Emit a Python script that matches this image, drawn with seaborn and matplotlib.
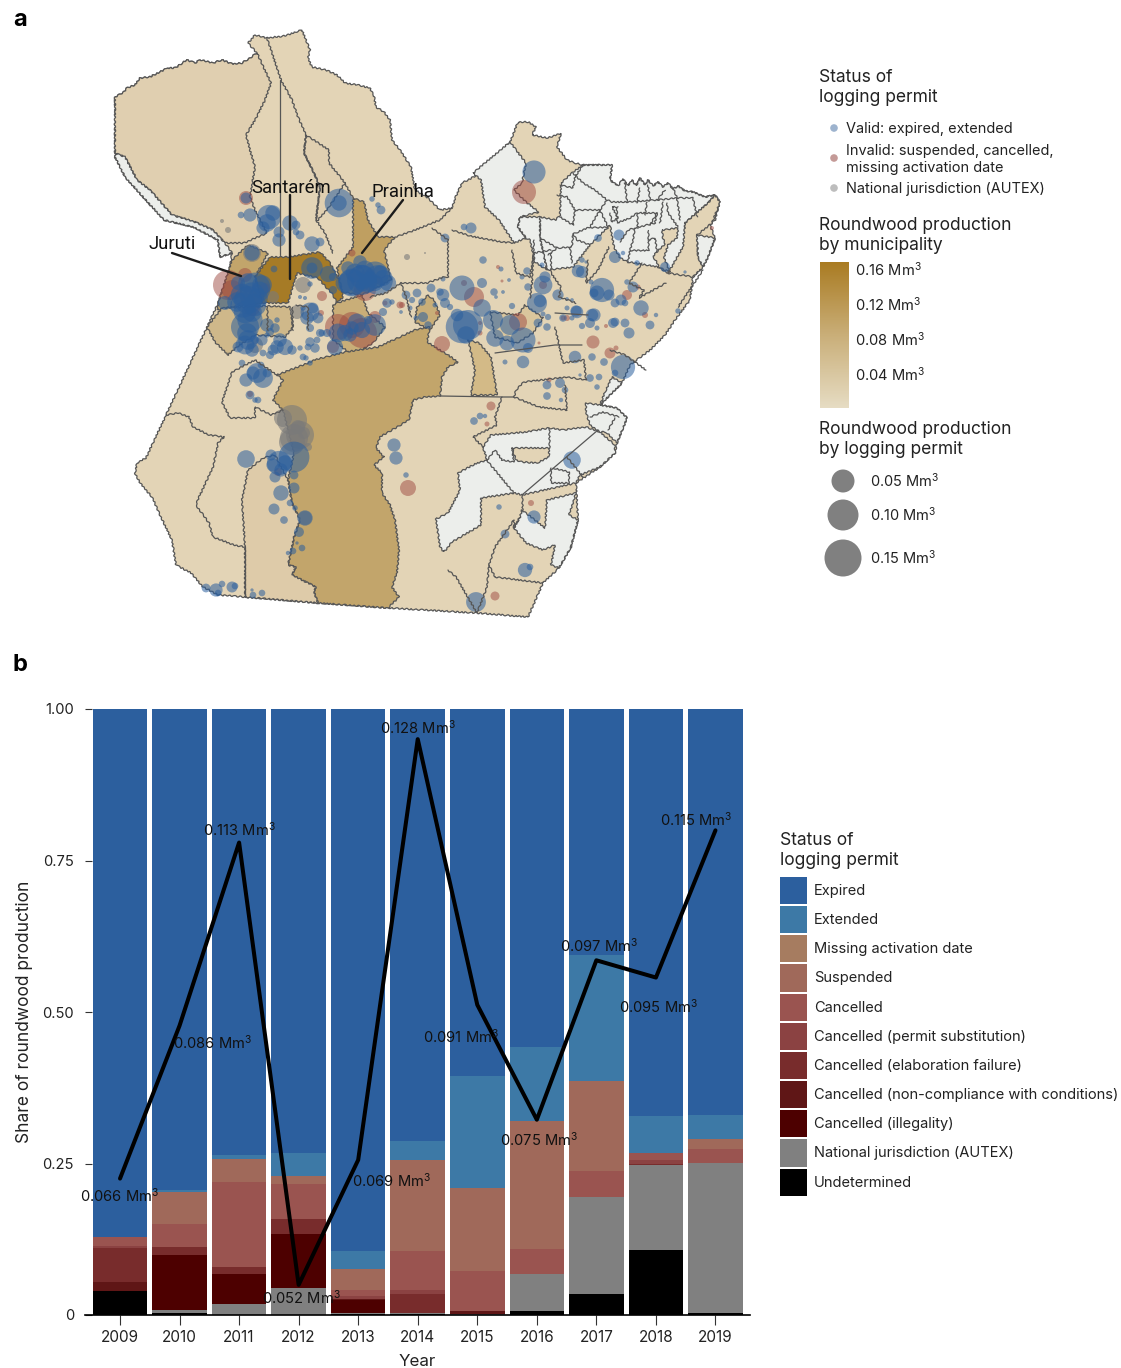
import matplotlib
matplotlib.use("Agg")
import matplotlib.pyplot as plt
import seaborn as sns
import pandas as pd
import numpy as np
from matplotlib.cm import ScalarMappable
from matplotlib.colors import Normalize
from matplotlib.patches import Polygon

sns.set_theme(style="white")
plt.rcParams["font.family"] = ["Inter", "DejaVu Sans"]
plt.rcParams["mathtext.default"] = "regular"

W, H = 1121, 1368

# ---------- panel b data ----------
years = ["2009", "2010", "2011", "2012", "2013", "2014", "2015", "2016", "2017", "2018", "2019"]
statuses = ["Expired", "Extended", "Missing activation date", "Suspended", "Cancelled",
            "Cancelled (permit substitution)", "Cancelled (elaboration failure)",
            "Cancelled (non-compliance with conditions)", "Cancelled (illegality)",
            "National jurisdiction (AUTEX)", "Undetermined"]
status_colors = ["#2C5F9E", "#3D79A6", "#A67C60", "#A0695A", "#9A5450", "#8B4242",
                 "#782C2C", "#5F1616", "#4D0000", "#808080", "#000000"]
undetermined = [.040, .003, .000, .000, .001, .001, .000, .007, .035, .107, .004]
national     = [.000, .006, .018, .044, .003, .002, .001, .060, .160, .140, .247]
illegality   = [.000, .090, .050, .090, .020, .000, .000, .000, .000, .000, .000]
noncompl     = [.015, .000, .000, .000, .002, .000, .006, .000, .000, .000, .000]
elaboration  = [.056, .014, .012, .025, .000, .032, .000, .000, .000, .002, .000]
substitution = [.003, .000, .000, .000, .006, .006, .000, .000, .000, .006, .000]
cancelled    = [.014, .037, .139, .057, .009, .065, .066, .042, .043, .013, .023]
suspended    = [.000, .053, .039, .013, .035, .150, .137, .211, .148, .000, .016]
missing      = [.000, .000, .000, .000, .000, .000, .000, .000, .000, .000, .000]
extended     = [.000, .003, .006, .039, .030, .031, .184, .122, .208, .061, .040]
layers = [undetermined, national, illegality, noncompl, elaboration, substitution,
          cancelled, suspended, missing, extended]
layer_names = statuses[::-1][:-1]

production = [.0668, .0881, .1136, .0520, .0694, .1280, .0910, .0750, .0972, .0948, .1153]
prod_labels = ["0.066", "0.086", "0.113", "0.052", "0.069", "0.128", "0.091", "0.075", "0.097", "0.095", "0.115"]
label_dx = [0, 33, 0, 3, 33, 0, -16, 2, 3, 3, -19]
label_dy = [17, 17, -13, 13, 21, -11, 32, 20, -15, 29, -11]

# ---------- panel a data: municipality shapes in map units ----------
state = [(115,97),(124,92),(127,88),(135,85),(140,78),(150,77),(160,72),(168,68),(175,68),(187,60),(195,63),(200,60),(213,63),
 (222,60),(232,64),(242,63),(250,58),(257,53),(248,43),(255,35),(267,38),(284,36),(302,30),(306,40),(310,50),(308,58),(312,67),
 (326,70),(337,75),(345,83),(358,85),(370,88),(374,96),(376,107),(384,112),(390,120),(392,140),(400,150),(411,167),(415,190),
 (428,198),(440,210),(452,208),(456,196),(462,183),(481,173),(495,160),(510,142),(518,122),(528,122),(536,127),(532,135),(548,138),(561,133),
 (557,147),(567,160),(575,163),(583,165),(612,165),(610,180),(618,186),(623,179),(628,186),(632,180),(636,186),(640,178),(645,185),(648,180),
 (653,186),(658,182),(663,187),(668,183),(673,189),(678,186),(685,191),(693,192),(705,197),(715,195),(720,202),(715,220),(710,225),(715,238),
 (708,257),(703,267),(693,277),(690,300),(675,320),(665,335),(650,350),(630,365),(622,383),(600,405),(617,408),(627,418),(617,443),(615,453),
 (600,467),(576,483),(578,520),(571,547),(559,568),(543,583),(528,617),(477,613),(390,608),(318,603),(245,597),(218,595),(203,587),(191,573),
 (176,565),(172,540),(160,515),(152,497),(140,483),(135,473),(137,463),(146,458),(166,415),(209,323),(218,303),(230,268),(232,253),(220,257),(218,240),
 (193,227),(164,220),(143,197),(125,177),(115,157)]
grey_west = [(115,153),(125,157),(137,180),(150,190),(172,215),(195,222),(213,230),(225,243),(232,253),(220,257),(218,240),
 (193,227),(164,220),(143,197),(125,177),(115,157)]
far_nw = [(115,97),(124,92),(127,88),(135,85),(140,78),(150,77),(160,72),(168,68),(175,68),(187,60),(195,63),(200,60),(213,63),(222,60),(232,64),(242,63),(250,58),(257,53),
 (264,68),(271,83),(265,100),(255,120),(246,135),(250,150),(255,167),(250,197),
 (255,210),(267,233),(244,243),(225,243),(213,230),(195,222),(172,215),(150,190),(137,180),(125,157),(115,153)]
curua = [(306,135),(329,150),(329,163),(345,183),(329,207),(318,220),(316,220),(320,187),(314,173),(304,153)]
prainha = [(353,198),(364,202),(368,220),(378,237),(395,237),(384,250),(391,280),(362,295),(342,292),(337,268),(353,247),(353,227)]
santarem = [(255,277),(270,257),(288,257),(320,252),(330,263),(340,282),(343,297),(337,303),(333,295),(318,278),(297,273),(288,303),(262,303)]
juruti = [(232,260),(248,245),(268,253),(255,277),(262,303),(225,308),(217,310),(220,297)]
aveiro = [(207,327),(222,308),(265,306),(290,307),(293,327),(285,337),(255,335),(237,347),(228,355),(215,342)]
patch_a = [(333,305),(337,303),(362,295),(368,313),(385,327),(373,343),(352,355),(333,340)]
patch_b = [(428,295),(417,307),(415,322),(430,330),(440,315),(434,300)]
patch_c = [(468,340),(479,343),(485,350),(491,357),(497,395),(471,395),(475,370)]
patch_d = [(490,312),(518,315),(525,305),(543,318),(533,333),(517,343),(495,337)]
altamira = [(430,327),(427,342),(448,355),(458,362),(448,367),(442,377),(440,396),(425,397),(413,400),(409,420),(380,437),
 (376,448),(384,457),(374,465),(382,473),(382,493),(390,505),(395,520),(397,535),(399,550),(397,573),(392,587),(399,597),(388,608),(318,603),
 (314,592),(316,587),(292,575),(296,567),(288,565),(294,537),(300,520),(292,503),(288,480),(294,453),(283,410),(273,400),
 (283,380),(277,375),(308,363),(314,360),(345,352),(378,347),(415,330)]
novo_prog = [(245,597),(245,547),(242,500),(248,470),(263,458),(275,455),(288,480),(292,503),(300,520),(294,537),(288,565),
 (296,567),(292,575),(316,587),(314,592),(318,603)]
marajo = [(473,173),(510,142),(526,163),(522,183),(514,190),(526,202),(539,212),(520,217),(518,227),(526,238),(514,243),
 (499,220),(485,207),(481,180)]
ne_grey = [(561,183),(572,173),(583,165),(612,165),(610,180),(618,186),(623,179),(628,186),(632,180),(636,186),(640,178),(645,185),(648,180),
 (653,186),(658,182),(663,187),(668,183),(673,189),(678,186),(685,191),(693,192),(705,197),(715,195),(708,203),(685,223),(685,250),
 (668,273),(658,267),(628,262),(620,258),(614,247),(610,225),(590,245),(573,267),(547,270),(540,238),(540,217),(556,220),(560,215)]
mid_grey = [(520,217),(540,217),(540,238),(547,270),(535,262),(530,240),(526,238),(518,227)]
e_tan = [(685,223),(708,203),(715,195),(720,202),(712,223),(697,235),(698,257),(703,267),(693,277),(668,273),(683,247)]
e_grey = [(697,235),(715,238),(708,257),(703,267),(698,257)]
ne_inset = [(662,230),(678,228),(677,238),(668,245),(664,258),(670,272),(660,268),(653,256),(665,244),(663,238)]
se_grey_a = [(483,447),(491,435),(526,432),(549,428),(563,430),(586,427),(600,432),(615,445),(615,453),(600,467),(580,475),(576,483),
 (522,495),(514,493),(481,498),(481,525),(452,542),(444,552),(440,547),(436,519),(448,513),(460,490),(458,473),(475,464),(487,460)]
se_grey_b = [(522,510),(545,528),(547,500),(576,493),(569,515),(578,520),(571,547),(559,568),(551,565),(555,545),(543,550),
 (526,543),(514,528),(520,517)]
se_grey_c = [(586,403),(600,405),(617,408),(627,418),(617,443),(606,432),(600,432),(590,425),(586,412)]
se_inset = [(512,448),(549,448),(549,457),(537,463),(522,462),(516,460)]
sliver = [(600,405),(622,383),(612,377),(605,392)]
areas = [(far_nw, "#E0CFB0"), (grey_west, "#ECEEEB"), (curua, "#E0CFB0"), (prainha, "#BF9F61"), (santarem, "#A67B26"),
         (juruti, "#C2A56B"), (aveiro, "#CFB88A"), (patch_a, "#C9AE78"), (patch_b, "#C9AE78"), (patch_c, "#D3BA87"), (patch_d, "#DAC69D"),
         (altamira, "#C2A56B"), (novo_prog, "#DECBA9"), (marajo, "#ECEEEB"), (ne_grey, "#ECEEEB"), (mid_grey, "#ECEEEB"),
         (e_tan, "#E3D4B6"), (e_grey, "#ECEEEB"), (ne_inset, "#E3D4B6"), (se_grey_a, "#ECEEEB"), (se_grey_b, "#ECEEEB"), (se_grey_c, "#ECEEEB"),
         (se_inset, "#E3D4B6"), (sliver, "#ECEEEB")]

borders = [
 [(267,38),(281,80),(292,100),(298,117),(306,135),(304,153),(314,173),(320,187),(316,220),(325,233),(333,253)],
 [(353,198),(345,183)], [(395,237),(410,232),(440,220),(452,208)],
 [(432,228),(448,240),(448,277),(444,277),(427,283),(401,283),(386,293),(370,297)],
 [(452,230),(470,236),(502,242),(514,243)], [(512,250),(516,273),(530,277),(534,253),(551,250)],
 [(534,240),(532,283),(530,298)], [(551,253),(551,273),(561,287),(559,297),(576,303)],
 [(588,260),(586,283),(598,270),(609,247)], [(642,263),(629,283),(644,290),(639,298),(666,283)],
 [(703,270),(678,307)], [(555,327),(563,363),(584,360),(586,380),(567,377),(524,382),(516,390),(514,397),(539,407),(567,410),(565,385)],
 [(625,355),(646,370)], [(610,350),(625,355)],
 [(502,397),(495,417),(497,425),(473,437),(481,445),(483,447)],
 [(401,283),(407,300),(411,317)], [(296,305),(308,307),(308,330)], [(292,307),(292,330)], [(267,307),(267,330)],
 [(232,372),(222,402),(230,418),(255,418),(255,407),(271,415),(283,410)], [(232,372),(255,360),(277,375)],
 [(166,415),(178,413),(189,417),(193,427),(209,435),(224,437),(218,443),(213,467),(199,497),(196,505),(209,523),(213,537),(234,545),(245,547)],
 [(448,570),(456,577),(477,613),(487,587),(489,565),(495,547),(514,520),(514,528)], [(495,577),(543,583)], [(489,565),(495,577)],
 # north-east municipalities
 [(560,185),(573,188),(575,177),(583,165)], [(573,173),(583,183),(595,190),(607,200)],
 [(557,195),(567,197),(575,210),(573,225),(560,217)],
 [(575,210),(587,210),(600,210),(590,227),(573,234),(572,247),(557,248),(548,255)],
 [(600,210),(607,200),(612,202),(627,202),(657,200),(677,198),(693,198)], [(600,210),(608,227)], [(590,227),(608,227)],
 [(573,234),(577,240),(590,245)], [(570,247),(572,263)],
 [(627,202),(625,183)], [(637,203),(640,188)], [(650,200),(648,185)], [(657,200),(665,190)], [(677,198),(673,188)], [(693,198),(697,217)],
 [(617,208),(617,223),(630,218),(637,213),(657,213),(655,223),(635,228),(628,230),(620,242)],
 [(637,213),(637,228)], [(647,202),(645,215)], [(657,213),(650,225)], [(663,202),(660,223)], [(667,203),(668,213),(678,227)], [(677,198),(680,220)],
 [(635,228),(633,240),(630,250),(628,262)], [(648,230),(648,250),(640,250),(630,250)], [(648,240),(655,238),(657,252)],
 [(610,213),(612,222),(618,218),(612,207),(618,207)],
 [(540,238),(557,248)],
 # south-east municipalities
 [(487,460),(495,450),(502,460),(514,462),(512,448)], [(549,448),(549,428)], [(487,460),(489,463),(514,493)],
 [(567,457),(583,477)], [(551,468),(551,483),(569,483),(569,472),(553,468)],
 [(590,417),(603,412)], [(603,412),(619,417)], [(608,430),(615,418)],
 [(522,495),(522,510)], [(514,528),(520,517)],
]
straight_borders = [[(280,80),(280,255)], [(495,353),(555,345),(582,345)], [(440,396),(502,397),(514,397)], [(555,313),(588,315)],
                    [(522,495),(598,430)], [(245,547),(245,597)]]

# permits as (x, y, bubble diameter) in map units
valid_juruti = [(255,288,22),(248,283,14),(262,285,14),(242,295,16),(248,300,20),(237,302,14),(255,305,16),(245,312,16),(250,320,18),(245,327,20),
 (225,303,10),(247,333,14),(260,290,12),(238,283,10),(252,295,18),(258,298,14),(243,305,18),(252,312,14),(248,340,14),(262,340,8)]
valid_north = [(534,172,21),(339,203,26),(339,203,14),(372,199,5),(381,210,8),(378,205,5),(471,228,10),(464,227,6),(445,238,8),(269,217,22),(267,223,16),
 (263,228,12),(273,213,14),(250,215,12),(241,215,6),(279,232,10),(279,240,12),(290,223,14),(296,225,8),(300,235,8),(312,244,14),(320,242,8),(296,232,6),(252,253,14),(246,198,10)]
valid_center = [(274,269,5),(312,268,16),(312,268,8),(328,274,12),(333,277,6),(333,290,6),(310,284,4),(300,297,3),(305,298,3),
 (310,312,14),(307,318,10),(313,308,8),(318,318,8),(303,308,4),(267,325,10),(277,320,4),(275,328,7),(270,332,6),(267,335,4),(300,348,4),(310,328,6),(320,333,6),(327,333,6),
 (310,342,7),(315,348,7),(308,347,5),(317,340,5),(303,357,5),(245,345,14),(252,350,10),(238,347,8),(255,340,6),(273,350,8),(280,340,10),(285,347,12),(277,347,10),(270,355,6),(263,353,5),(292,350,7),(306,358,4),(310,363,4),
 (338,333,14),(345,333,12),(357,323,14),(375,325,16),(350,335,10),(368,320,6),(335,347,12),(322,333,5),(362,330,12),(352,328,10)]
valid_prainha = [(362,277,18),(355,273,14),(375,275,20),(368,283,14),(352,283,20),(360,262,10),(383,278,12),(388,283,12),(348,268,10),(365,270,14),(380,272,10),(375,283,12),(345,283,14),
 (387,303,7),(383,312,6),(392,302,4),(362,285,10),(370,278,10),(362,280,22),(378,280,22),(352,282,20)]
valid_altamira = [(483,260,6),(501,269,4),(509,280,3),(527,271,6),(522,277,4),(542,265,4),(545,277,9),(543,285,15),(528,287,6),(443,279,4),(462,288,20),(482,283,8),(482,308,14),(494,292,6),(503,292,3),(496,297,3),(512,306,5),
 (537,303,16),(540,301,10),(558,295,9),(567,299,3),(577,312,10),(572,300,3),(578,271,10),(591,282,4),(597,293,12),(468,325,24),(462,327,26),(457,315,10),(493,320,16),(495,338,14),(507,343,12),(510,325,16),
 (523,340,20),(528,348,8),(538,323,7),(543,314,4),(548,317,5),(547,327,6),(563,318,6),(572,318,4),(576,311,9),(592,315,10),(582,326,5),(590,323,8),(597,328,4),(567,308,4),(505,362,4),(523,362,10),(575,357,10),(592,357,6),
 (443,295,10),(440,292,6),(445,303,8),(450,307,5),(435,305,4),(422,302,6),(417,293,7),(406,295,7),(412,300,5),(410,308,4),(431,288,7),(423,317,8),(416,318,4),(428,325,6),(401,312,3),(466,335,14)]
valid_east = [(582,272,11),(598,238,7),(619,235,10),(615,257,11),(623,253,4),(637,263,5),(665,267,9),(685,272,3),(582,260,5),(586,262,3),(602,290,22),(594,293,8),(609,295,10),(621,300,10),(615,303,8),(633,287,10),
 (641,308,14),(625,303,6),(627,282,5),(594,315,12),(615,322,8),(625,323,8),(678,311,5),(656,315,4),(623,367,22),(604,362,7),(615,373,6),(613,323,9),(629,333,10),(650,325,8),
 (547,385,8),(560,383,9),(547,396,7),(565,390,6),(561,400,4),(580,375,3),(590,378,7),(599,377,6),(597,387,5)]
valid_south = [(246,459,16),(294,457,28),(279,463,22),(271,455,10),(273,465,12),(285,463,14),(275,477,10),(281,470,12),(294,475,8),(294,488,10),(281,493,14),(290,503,6),(274,509,10),(295,508,5),(284,520,7),(305,518,14),
 (299,532,9),(302,548,6),(293,551,6),(288,553,4),(297,543,3),(394,445,12),(396,458,12),(406,475,5),(480,416,6),(474,421,7),(485,416,4),(572,460,16),(534,517,12),(505,534,8),(499,507,5),(525,570,13),(530,567,6),(476,602,18),
 (206,588,8),(216,590,12),(222,584,6),(232,587,10),(235,586,6),(218,593,6),(253,595,6),(262,593,6),(252,590,3),(257,373,18),(263,378,18),(246,380,12),(253,373,12),(242,363,6),(261,365,6),(267,373,8),(255,400,5),(258,400,6),(250,395,8)]
invalid_all = [(524,192,24),(246,198,14),(228,285,30),(245,275,14),(232,290,20),(252,308,16),(265,288,10),(322,296,10),(338,327,26),(362,333,30),(375,317,12),(352,253,7),(365,290,22),(377,280,8),(321,313,6),(385,303,5),
 (402,305,6),(333,347,12),(352,325,26),(498,267,4),(502,281,3),(543,285,8),(464,283,6),(474,297,20),(518,322,18),(539,343,3),(593,342,13),(437,313,4),(400,305,7),(480,323,4),(480,333,5),(442,344,16),(563,318,5),
 (627,295,10),(638,287,5),(610,353,11),(616,348,5),(606,326,4),(549,380,5),(491,406,9),(487,424,5),(408,488,16),(531,503,6),(495,596,9),(278,472,8),(250,394,6),(567,318,6),(645,315,6),(712,228,4)]
autex_all = [(292,420,30),(300,435,28),(294,438,28),(292,442,26),(304,433,12),(308,447,8),(298,427,14),(283,418,18),(303,285,16),(297,312,14),(273,297,12),(252,253,18),(407,257,6),(425,253,2),(228,230,6),(222,221,4),(305,518,14),(255,345,16)]

# legend values
bubble_vals = ["0.05", "0.10", "0.15"]
bubble_d = [23, 31, 37]
cbar_ticks = [0.04, 0.08, 0.12, 0.16]
cbar_labels = ["0.04", "0.08", "0.12", "0.16"]

# ---------- figure ----------
fig = plt.figure(figsize=(W / 100, H / 100), dpi=100)
bg = fig.add_axes([0, 0, 1, 1])
bg.set_xlim(0, W)
bg.set_ylim(H, 0)

edge = "#565656"
rough = (0.7, 5, 2)
for shape, col in [(state, "#E3D4B6")] + areas:
    p = Polygon(shape, closed=True, fc=col, ec=edge, lw=0.9)
    p.set_sketch_params(*rough)
    bg.add_patch(p)
for line in borders:
    xs, ys = zip(*line)
    ln, = bg.plot(xs, ys, color=edge, lw=0.9, solid_joinstyle="round")
    ln.set_sketch_params(*rough)
for line in straight_borders:
    xs, ys = zip(*line)
    bg.plot(xs, ys, color=edge, lw=0.9)

# dense logging districts are drawn with slightly larger bubbles
dense = [(valid_north, 1.1), (valid_juruti, 1.4), (valid_center, 1.35), (valid_prainha, 1.35), (valid_altamira, 1.25),
         (valid_east, 1.1), (valid_south, 1.1)]
rows = [(x, y, d, "autex") for x, y, d in autex_all] + [(x, y, d, "invalid") for x, y, d in invalid_all]
for group, k in dense:
    rows += [(x, y, d * k, "valid") for x, y, d in group]
permits = pd.DataFrame(rows, columns=["x", "y", "d", "status"])
permits["area"] = (permits["d"] * 0.72) ** 2
a_min, a_max = permits["area"].min(), permits["area"].max()
for st, col, al in [("autex", "#7A7A7A", .6), ("invalid", "#9E4A42", .5), ("valid", "#2B5F9E", .55)]:
    sub = permits[permits["status"] == st]
    sns.scatterplot(data=sub, x="x", y="y", size="area", sizes=(a_min, a_max), size_norm=(a_min, a_max),
                    color=col, alpha=al, linewidth=0, legend=False, ax=bg)

# place names
for name, tx, ty, lx, ly in [("Santarém", 291, 188, [290, 290], [195, 279]),
                             ("Prainha", 403, 192, [403, 362], [200, 253]),
                             ("Juruti", 172, 244, [172, 241], [253, 276])]:
    bg.plot(lx, ly, color="#1c1c1c", lw=1.7)
    bg.text(tx, ty, name, ha="center", va="center", fontsize=13.3, family=["Roboto", "DejaVu Sans"], color="#111111")

# legend of panel a
def T(x, y, s, size=10, **kw):
    bg.text(x, y, s, fontsize=size, va="center", ha=kw.pop("ha", "left"), color=kw.pop("color", "#222222"), **kw)

TITLE = 12.55
T(819, 77, "Status of", TITLE); T(819, 97, "logging permit", TITLE)
T(846, 129, "Valid: expired, extended", 10.45)
T(846, 151, "Invalid: suspended, cancelled,", 10.45); T(846, 168, "missing activation date", 10.45)
T(846, 189, "National jurisdiction (AUTEX)", 10.45)
sns.scatterplot(x=[834, 834, 834], y=[128, 158, 188], hue=["Valid", "Invalid", "AUTEX"],
                palette={"Valid": "#9DB3CE", "Invalid": "#C49A97", "AUTEX": "#BDBDBD"},
                s=30, linewidth=0, legend=False, ax=bg)
T(819, 225, "Roundwood production", TITLE); T(819, 246, "by municipality", TITLE)
T(819, 430, "Roundwood production", TITLE); T(819, 450, "by logging permit", TITLE)
bub_y = [481, 515, 558]
sns.scatterplot(x=[843, 843, 843], y=bub_y, size=bubble_vals, sizes={v: (d * .72) ** 2 for v, d in zip(bubble_vals, bubble_d)},
                color="#808080", linewidth=0, legend=False, ax=bg)
for v, y in zip(bubble_vals, bub_y):
    T(870, y, f"{v} Mm$^{{3}}$", 10.5)

# panel letters
bg.text(13, 20, "a", fontsize=17, fontweight="bold", va="center", color="black")
bg.text(13, 665, "b", fontsize=17, fontweight="bold", va="center", color="black")
T(417, 1361, "Year", 12.2, ha="center")
bg.text(25, 1012, "Share of roundwood production", fontsize=12.5, rotation=90, va="center", ha="center", color="#222222")
bg.set_xlim(0, W)
bg.set_ylim(H, 0)
bg.set_axis_off()

# colour bar
cax = fig.add_axes([820 / W, 1 - 408 / H, 29 / W, 146 / H])
cmap = sns.blend_palette(["#E6DCC3", "#C9AE78", "#A97B22"], as_cmap=True)
cb = fig.colorbar(ScalarMappable(Normalize(0, 0.167), cmap), cax=cax)
cb.outline.set_visible(False)
cb.set_ticks(cbar_ticks)
cb.set_ticklabels([f"{v} Mm$^{{3}}$" for v in cbar_labels], fontsize=10.6, color="#222222")
cax.tick_params(axis="y", direction="in", left=True, right=True, length=4, width=0.8, color="white", pad=4.5)

# ---------- panel b ----------
ax = fig.add_axes([85 / W, 1 - 1315 / H, 665 / W, 606 / H])
bottom = np.zeros(len(years))
color_of = dict(zip(statuses, status_colors))
for name, vals in zip(layer_names, layers):
    sns.barplot(x=years, y=vals, bottom=bottom, color=color_of[name], width=0.915, saturation=1,
                linewidth=0, label=name, ax=ax)
    bottom = bottom + np.array(vals)
expired = 1 - bottom
sns.barplot(x=years, y=expired, bottom=bottom, color=color_of["Expired"], width=0.915, saturation=1,
            linewidth=0, label="Expired", ax=ax)
ax.set_xlim(-0.588, 10.58)
ax.set_ylim(0, 1)
ax.set_yticks([0, .25, .5, .75, 1])
ax.set_yticklabels(["0", "0.25", "0.50", "0.75", "1.00"], fontsize=10.6, color="#222222")
ax.tick_params(axis="y", direction="in", left=True, length=5, width=0.8, color="#333333", pad=8)
ax.tick_params(axis="x", direction="out", bottom=True, length=7, width=0.8, color="#333333", labelsize=11, labelcolor="#222222", pad=4)
ax.set_xlabel(""); ax.set_ylabel("")
sns.despine(ax=ax, left=True)
ax.spines["bottom"].set_color("black")
ax.spines["bottom"].set_linewidth(1.2)

handles, labels = ax.get_legend_handles_labels()
lookup = dict(zip(labels, handles))
leg = ax.legend([lookup[s] for s in statuses], statuses,
                loc="upper left", bbox_to_anchor=(780 / W, 1 - 832 / H), bbox_transform=fig.transFigure,
                frameon=False, fontsize=10.55, title="Status of\nlogging permit", title_fontsize=TITLE,
                alignment="left", handlelength=1.84, handleheight=2.47, handletextpad=0.47, labelspacing=0.14,
                borderpad=0, borderaxespad=0)
for t in leg.get_texts():
    t.set_color("#222222")
leg.get_title().set_color("#222222")
leg._legend_box.sep = 6

# production line on its own scale
tw = ax.twinx()
sns.lineplot(x=list(range(len(years))), y=production, color="black", lw=2.9, ax=tw, legend=False)
tw.set_xlim(ax.get_xlim())
tw.set_ylim(0.0478, 0.1322)
tw.set_axis_off()
for i, (v, lab) in enumerate(zip(production, prod_labels)):
    tw.annotate(f"{lab} Mm$^{{3}}$", (i, v), xytext=(label_dx[i] * .72, -label_dy[i] * .72), textcoords="offset points",
                ha="center", va="center", fontsize=10.6, color="#111111")

fig.savefig("out.png", dpi=100)
